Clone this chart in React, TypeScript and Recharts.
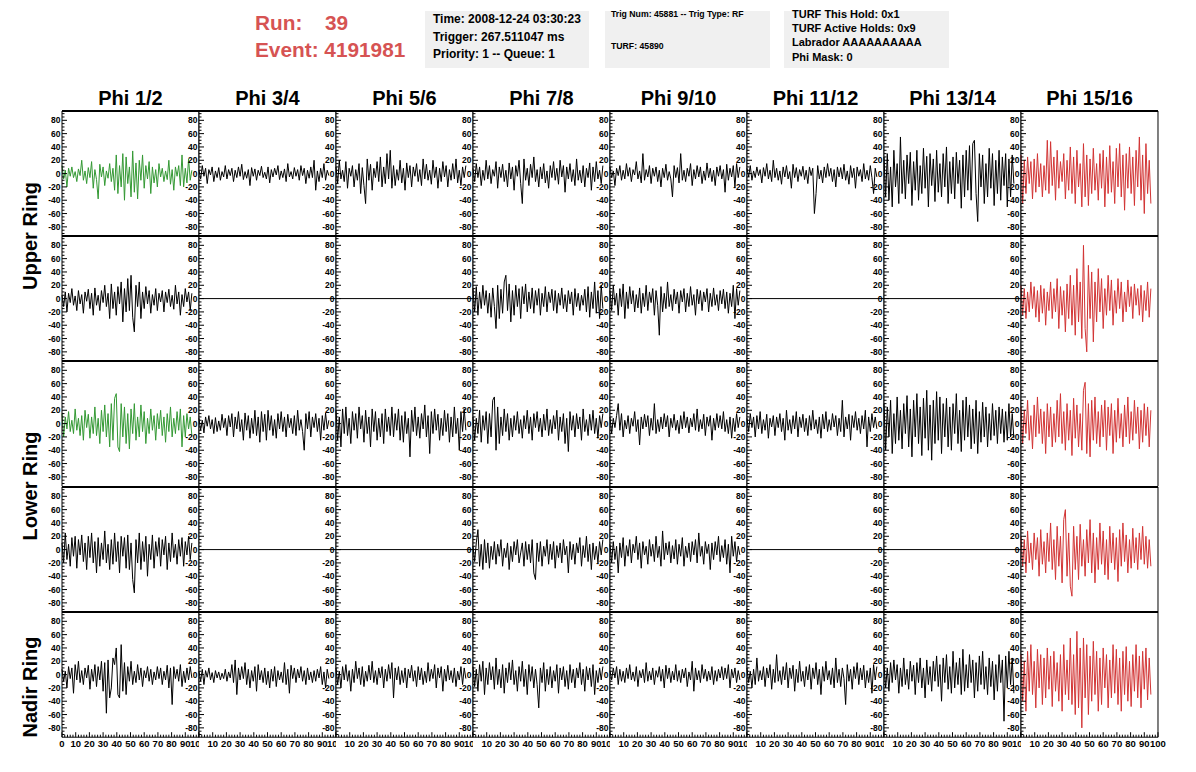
import { LineChart, Line, XAxis, YAxis, ReferenceLine } from "recharts";

const columns = ["Phi 1/2", "Phi 3/4", "Phi 5/6", "Phi 7/8", "Phi 9/10", "Phi 11/12", "Phi 13/14", "Phi 15/16"];

// sample spacing (ns) of every waveform
const DT = 1.2;

// empty channels: a flat line across the whole window
const flatTimes = [0, 100];
const flatValues = [0, 0];

const yTicks = [-90, -85, -80, -75, -70, -65, -60, -55, -50, -45, -40, -35, -30, -25, -20, -15, -10, -5, 0, 5, 10, 15, 20, 25, 30, 35, 40, 45, 50, 55, 60, 65, 70, 75, 80, 85, 90];
const xTicks = [0, 2, 4, 6, 8, 10, 12, 14, 16, 18, 20, 22, 24, 26, 28, 30, 32, 34, 36, 38, 40, 42, 44, 46, 48, 50, 52, 54, 56, 58, 60, 62, 64, 66, 68, 70, 72, 74, 76, 78, 80, 82, 84, 86, 88, 90, 92, 94, 96, 98, 100];

// ---- Upper ring, top row
const upperTop12 = [
  12, -8, 5, -20, 8, -4, 10, -6, 3, -12,
  7, -3, 20, -10, 4, -15, 9, -6, 18, -22,
  6, -9, -38, 14, -5, 10, -18, 4, -7, 15,
  -12, 8, -25, 28, -30, 12, -20, 30, -40, 25,
  -15, 10, -35, 34, -28, 16, -38, 20, -10, 28,
  -22, 12, -8, 18, -30, 10, -14, 6, -20, 15,
  -5, 8, -12, 4, -9, 20, -16, 6, -25, 10,
  -4, 12, -18, 28, -20, 8, -14, 22, -10, 5,
];
const upperTop34 = [
  5, -8, 12, -4, 8, -15, 6, -2, 10, -12,
  4, -6, 9, -10, 3, -5, 12, -8, 6, -3,
  8, -12, 5, -6, 10, -4, 14, -9, 3, -7,
  6, -18, 9, -4, 7, -10, 5, -3, 11, -6,
  2, -8, 10, -14, 6, -5, 8, -2, 12, -9,
  4, -6, 7, -12, 15, -5, 3, -8, 9, -4,
  6, -10, 12, -3, 8, -15, 5, -7, 10, -6,
  20, -25, 4, -12, 8, -6, 15, -10, 5, -3,
];
const upperTop56 = [
  10, -15, 20, -8, 5, -12, 18, -22, 8, -4,
  12, -20, 6, -10, 15, -30, 9, -18, -45, 22,
  -10, 14, -25, 8, -6, 18, -12, 25, -20, 10,
  -15, 30, -8, 35, -22, 12, -18, 6, -10, 20,
  -14, 8, -25, 16, -6, 12, -20, 10, -4, 15,
  -12, 6, -18, 22, -8, 14, -10, 5, -16, 20,
  -6, 10, -22, 8, -12, 18, -5, 12, -20, 6,
  -10, 15, -8, 22, -14, 5, -18, 10, -6, 12,
];
const upperTop78 = [
  8, -12, 15, -6, 10, -18, 5, -10, 20, -8,
  12, -15, 6, -4, 18, -22, 10, -6, 14, -12,
  5, -20, 16, -8, 10, -25, 12, -4, 20, -15,
  -45, 22, -10, 8, -18, 14, -6, 25, -12, 6,
  -20, 10, -8, 15, -14, 4, -22, 12, -6, 18,
  -10, 8, -16, 20, -5, 12, -28, 10, -8, 15,
  -12, 6, -18, 22, -10, 5, -14, 12, -20, 8,
  -6, 16, -25, 10, -12, 18, -8, 5, -15, 12,
];
const upperTop910 = [
  10, -6, 4, -18, 8, -3, 12, -10, 5, -8,
  15, -4, 9, -12, 6, -2, 18, -8, 4, -14,
  30, -10, 6, -5, 12, -15, 8, -4, 10, -12,
  5, -20, 8, -6, 14, -10, 3, -8, -35, 12,
  -6, 9, -14, 30, -10, 5, -12, 8, -4, 15,
  -18, 6, -8, 12, -5, 10, -15, 4, -10, 16,
  -6, 8, -12, 5, -18, 10, -4, 12, -8, 6,
  -28, 14, -10, 8, -5, 12, -20, 15, -6, 10,
];
const upperTop1112 = [
  8, -5, 12, -10, 4, -6, 10, -3, 6, -14,
  9, -4, 15, -8, 5, -12, 20, -6, 8, -10,
  4, -16, 10, -5, 12, -8, 3, -22, 14, -6,
  9, -12, 6, -4, 11, -9, 5, -15, 10, -3,
  8, -60, -30, 12, -8, 5, -14, 10, -6, 15,
  -4, 8, -12, 6, -20, 10, -5, 9, -8, 14,
  -10, 4, -16, 12, -6, 8, -22, 10, -4, 6,
  -12, 15, -8, 5, -10, 12, -6, -30, 8, -5,
];
const upperTop1314 = [
  25, -35, 30, -40, 10, -50, 35, -20, 15, -45,
  55, -30, 20, -38, 28, -15, 32, -48, 18, -25,
  35, -40, 12, -30, 38, -22, 26, -50, 30, -18,
  22, -42, 35, -28, 15, -35, 30, -20, 40, -45,
  18, -30, 25, -38, 32, -15, 20, -52, 28, -35,
  35, -25, 42, -40, 45, 50, -30, -72, 30, -20,
  28, -45, 15, -35, 38, -22, 30, -48, 20, -30,
  35, -40, 25, -18, 30, -50, 22, -35, 28, -15,
];
const upperTop1516 = [
  28, -45, 20, -30, 25, -15, 18, -38, 22, -28,
  30, -20, 15, -35, 12, -25, 50, -30, 48, -18,
  25, -40, 35, -22, 18, -12, 30, -38, 20, -25,
  40, -30, 25, -45, 35, -20, 15, -50, 45, -35,
  28, -48, 22, -30, 38, -25, 15, -40, 30, -22,
  35, -50, 25, -30, 42, -28, 18, -45, 38, -20,
  45, -35, 28, -55, 30, -22, 40, -30, 25, -48,
  35, -20, 55, -40, 28, -60, 45, -30, 20, -45,
];

// ---- Upper ring, bottom row
const upperBot12 = [
  5, -12, 10, -20, 8, -6, 15, -10, 4, -18,
  12, -8, 6, -22, 10, -4, 14, -15, 8, -25,
  16, -10, 5, -18, 12, -6, 20, -12, 8, -30,
  22, -15, 10, -25, 18, -8, 25, -35, 15, -20,
  30, -18, 35, -28, -50, 20, -12, 25, -30, 10,
  -15, 18, -8, 12, -22, 6, -10, 15, -18, 8,
  -5, 12, -20, 10, -6, 14, -12, 5, -16, 20,
  -8, 10, -25, 6, -12, 15, -5, 10, -18, 8,
];
const upperBot78 = [
  15, -20, 18, -25, 10, -15, 20, -10, 12, -22,
  8, -28, 16, -12, -45, 20, -30, 14, -22, 25,
  35, -18, 22, -35, 12, -25, 20, -12, 15, -30,
  18, -8, 22, -20, 10, -15, 16, -22, 12, -10,
  15, -25, 8, -12, 18, -20, 10, -6, 14, -18,
  12, -22, 8, -10, 16, -15, 6, -20, 12, -8,
  10, -25, 15, -12, 8, -18, 5, -10, 14, -20,
  18, -28, 10, -15, 25, -22, 12, -30, 20, -15,
];
const upperBot910 = [
  12, -18, 20, -10, 8, -25, 15, -12, 22, -30,
  10, -15, 18, -8, 12, -20, 6, -14, 16, -22,
  8, -12, 20, -18, 10, -6, 15, -25, 12, -10,
  -55, 18, -20, 8, -15, 25, -12, 6, -18, 14,
  -8, 10, -22, 12, -5, 15, -20, 8, -12, 18,
  -10, 6, -25, 14, -8, 12, -18, 10, -5, 15,
  -20, 8, -12, 16, -10, 6, -18, 12, -8, 14,
  -15, 10, -22, 8, -12, 20, -30, 15, -10, 12,
];
const upperBot1516 = [
  20, -25, 15, -30, 10, -20, 25, -15, 18, -28,
  12, -35, 20, -22, 15, -40, 10, -18, 25, -30,
  15, -20, 30, -45, 18, -25, 12, -50, 22, -30,
  35, -40, 20, -55, 45, -35, 25, -60, 80, -45,
  -80, 50, -30, 40, -65, 25, -35, 45, -20, 30,
  -45, 15, -25, 35, -18, 28, -40, 12, -22, 30,
  -15, 25, -35, 10, -20, 28, -12, 18, -30, 22,
  -10, 15, -25, 20, -35, 12, -18, 25, -28, 15,
];

// ---- Lower ring, top row
const lowerTop12 = [
  15, -20, 10, -8, 18, -12, 5, -15, 22, -10,
  8, -18, 12, -25, 20, -6, 14, -22, 10, -15,
  25, -18, 8, -30, 20, -12, 28, -20, 15, -35,
  30, -25, 38, 45, -35, -42, 30, -20, 25, -30,
  15, -38, 22, -15, 30, -25, 10, -20, 28, -12,
  18, -30, 8, -15, 22, -10, 12, -25, 15, -8,
  20, -18, 10, -28, 15, -12, 25, -20, 8, -15,
  18, -10, 22, -35, 12, -20, 15, -8, 10, -18,
];
const lowerTop34 = [
  8, -10, 5, -14, 10, -4, 12, -8, 6, -15,
  9, -12, 4, -10, 14, -6, 8, -18, 12, -5,
  15, -20, 10, -8, 18, -12, 6, -25, 16, -10,
  12, -22, 8, -15, 20, -18, 10, -28, 18, -12,
  14, -25, 20, -10, 12, -18, 6, -22, 15, -8,
  18, -12, 10, -20, 14, -6, 8, -15, 12, -18,
  20, -10, 6, -12, -40, 15, -8, 18, -20, 10,
  -6, 15, -12, 8, -25, 12, -10, 16, -8, 5,
];
const lowerTop56 = [
  20, -25, 10, -35, 22, -15, 25, -18, 8, -30,
  18, -10, 15, -22, 25, -8, 12, -28, 20, -15,
  10, -35, 22, -12, 18, -25, 8, -20, 15, -30,
  22, -12, 10, -18, 25, -20, 15, -10, 22, -25,
  12, -28, 18, -15, 8, -50, 20, -12, 25, -18,
  10, -22, 15, -8, 28, -20, 12, -45, 18, -15,
  22, -10, 14, -25, 8, -18, 20, -12, 15, -28,
  10, -20, 25, -15, 8, -40, 18, -12, 22, -10,
];
const lowerTop78 = [
  10, -25, 8, -15, 20, -28, 12, -10, 18, -30,
  15, -20, 35, 40, -40, 25, -30, 10, -18, 22,
  -12, 15, -25, 8, -20, 12, -10, 18, -15, 6,
  -22, 12, -8, 20, -15, 10, -25, 15, -6, 18,
  -12, 8, -20, 14, -10, 22, -18, 6, -15, 12,
  -8, 20, -25, 10, -12, 15, -30, 8, -42, 18,
  -10, 12, -20, 15, -8, 10, -25, 22, -12, 6,
  -18, 14, -10, 20, -15, 8, -22, 12, -6, 15,
];
const lowerTop910 = [
  10, -15, 8, -6, 12, 30, -10, 15, -20, 5,
  -8, 12, -15, 8, -4, 18, -12, 6, -32, 10,
  -8, 14, -5, 12, -18, 8, -10, 30, -15, 6,
  -12, 10, -8, 15, -5, 12, -20, 8, -6, 14,
  -10, 5, -15, 12, -8, 18, -6, 10, -14, 8,
  -5, 15, -10, 22, -12, 6, -8, 14, -18, 10,
  -4, 12, -25, 8, -10, 15, -6, 12, -8, 18,
  -12, 6, -15, 10, -22, 8, -12, 15, -6, 10,
];
const lowerTop1112 = [
  8, -12, 15, -6, 10, -20, 12, -8, 18, -15,
  6, -10, 14, -22, 8, -5, 12, -18, 10, -6,
  15, -12, 8, -25, 20, -10, 6, -15, 12, -8,
  18, -20, 10, -6, 14, -12, 8, -18, 12, -10,
  20, -8, 6, -15, 10, -22, 14, -8, 18, -12,
  6, -10, 15, -5, 12, -18, 8, -12, 35, -20,
  10, -8, 14, -25, 12, -6, 18, -10, 8, -15,
  12, -8, 20, -35, 10, -12, 15, -6, 10, -8,
];
const lowerTop1314 = [
  30, -40, 25, -20, 35, -45, 15, -30, 40, -25,
  20, -38, 30, -15, 42, -35, 22, -50, 35, -20,
  45, -30, 25, -48, 38, -22, 50, -40, 28, -55,
  35, -30, 48, -25, 40, -45, 30, -20, 38, -35,
  25, -40, 30, -15, 45, -30, 20, -42, 35, -25,
  40, -20, 28, -38, 22, -30, 35, -45, 18, -28,
  32, -20, 25, -35, 15, -25, 30, -18, 20, -30,
  25, -15, 22, -28, 18, -25, 30, -20, 15, -22,
];
const lowerTop1516 = [
  25, -30, 20, -15, 35, -25, 12, -38, 28, -20,
  40, -15, 22, -30, 18, -45, 30, -20, 25, -35,
  15, -28, 35, -20, 45, -30, 18, -40, 30, -25,
  20, -48, 38, -22, 28, -35, 15, -40, 50, 62,
  -45, 30, -50, 35, -25, 40, -30, 18, -35, 28,
  -20, 35, -40, 25, -18, 30, -45, 20, -28, 38,
  -22, 15, -35, 28, -20, 40, -30, 18, -25, 35,
  -15, 25, -38, 20, -28, 30, -18, 25, -35, 20,
];

// ---- Lower ring, bottom row
const lowerBot12 = [
  10, -20, 25, -15, 8, -25, 18, -10, 20, -28,
  15, -8, 22, -18, 10, -30, 20, -12, 25, -20,
  12, -35, 18, -25, 10, -15, 28, -20, 8, -30,
  15, -22, 25, -18, 12, -35, 20, -10, 18, -28,
  22, -30, 10, -45, -65, 15, -20, 25, -30, 12,
  -18, 20, -40, 8, -15, 22, -28, 12, -10, 18,
  -25, 15, -8, 20, -30, 10, -18, 25, -12, 8,
  -22, 15, -10, 18, -25, 12, -8, 20, -15, 10,
];
const lowerBot78 = [
  5, -18, 10, 30, -25, 8, -30, 15, -20, 10,
  -28, 5, -15, 12, -22, 8, -10, 15, -25, 2,
  -12, 10, -30, 5, -18, 12, -8, 15, -20, -5,
  10, -25, 12, -15, 8, -20, 15, -35, -45, 10,
  -18, 12, -25, 5, -10, 15, -22, 8, -15, 12,
  -28, 6, -12, 10, -20, 15, -8, 5, -35, 12,
  -15, 8, -22, 10, -5, 18, -25, 6, -12, 20,
  -18, 8, -30, 10, -15, 5, -20, 12, -8, 15,
];
const lowerBot910 = [
  8, -20, 12, -15, 5, -35, 10, -12, 18, -25,
  6, -10, 15, -20, 8, -5, 20, -15, 10, -28,
  12, -8, 5, -22, 15, -10, 8, -18, 20, -12,
  5, -25, 28, -15, 10, -8, 12, -20, 6, -14,
  15, -22, 8, -10, 18, -25, 5, -12, 10, -18,
  12, -8, 15, -20, 25, -10, 5, -22, 12, -6,
  8, -30, 10, -15, 12, -8, 20, -18, 6, -12,
  15, -22, 8, -35, 20, -10, 12, -18, 5, -8,
];
const lowerBot1516 = [
  20, -25, 15, -35, 28, -20, 10, -30, 25, -15,
  18, -40, 30, -22, 12, -35, 25, -18, 40, -30,
  15, -45, 35, -25, 20, -50, 45, 60, -40, 25,
  -55, -70, 35, -30, 20, -45, 38, -25, 15, -40,
  30, -20, 45, -35, 25, -50, 18, -30, 40, -22,
  28, -38, 15, -45, 35, -20, 25, -30, 18, -48,
  30, -25, 40, -18, 22, -35, 15, -28, 32, -20,
  18, -30, 25, -15, 35, -22, 20, -28, 15, -25,
];

// ---- Nadir ring
const nadir12 = [
  8, -10, 5, -20, 12, -6, 10, -28, 15, -8,
  20, -12, 6, -15, 10, -5, 14, -22, 8, -10,
  15, -18, 12, -8, 20, -25, 18, -58, 22, -35,
  -20, 25, 15, 40, -30, -35, 45, -25, 18, -30,
  12, -10, 20, -15, 5, -12, 15, -8, 10, -18,
  6, -5, 12, -10, 8, -15, 4, -8, 12, -6,
  10, -15, 5, -8, 14, -20, 10, -45, 12, -6,
  8, -10, 15, -18, 5, -12, 10, -8, 12, -5,
];
const nadir34 = [
  5, -10, 8, -15, 6, -4, 10, -8, 3, -12,
  6, -5, 4, -8, 2, -6, 8, -10, 4, -5,
  15, -12, 22, -30, 10, -8, 12, -6, 18, -15,
  8, -20, 6, -10, 12, -25, 15, -8, 6, -12,
  10, -15, 5, -20, 8, -10, 12, -18, 6, -8,
  4, -12, 18, -15, 8, -28, 14, -6, 10, -12,
  8, -5, 12, -10, 6, -15, 10, -8, 4, -12,
  6, -10, 8, -5, 12, -15, 4, -20, 8, -6,
];
const nadir56 = [
  10, -15, 5, -20, 12, -8, 15, -10, 6, -25,
  8, -12, 20, -6, 10, -15, 12, -18, 5, -10,
  14, -8, 20, -12, 6, -15, 10, -5, 12, -20,
  8, -10, 15, -6, 18, -35, 10, -8, 12, -15,
  6, -12, 10, -20, 8, -5, 14, -10, 6, -18,
  12, -8, 10, -15, 5, -12, 18, -10, 8, -6,
  15, -20, 10, -5, 12, -25, 8, -10, 14, -8,
  6, -12, 10, -18, 5, -8, 12, -15, 10, -6,
];
const nadir78 = [
  12, -18, 8, -25, 15, -10, 20, -30, 10, -15,
  18, -8, 12, -22, 25, -15, 8, -20, 15, -28,
  10, -12, 18, -8, 22, -15, 6, -25, 12, -10,
  20, -18, 8, -30, 15, -10, 12, -20, 8, -15,
  -50, 10, -12, 18, -25, 8, -15, 12, -20, 6,
  -10, 15, -28, 10, -8, 12, -18, 6, -22, 15,
  -12, 8, -20, 10, -5, 18, -15, 8, -25, 12,
  -8, 10, -18, 15, -30, 6, -12, 10, -8, 12,
];
const nadir910 = [
  6, -8, 10, -5, 12, -15, 8, -10, 5, -12,
  10, -6, 15, -8, 4, -10, 12, -18, 6, -5,
  8, -12, 18, -10, 5, -8, 10, -15, 6, -4,
  12, -10, 8, -20, 14, -6, 10, -12, 5, -8,
  15, -10, 6, -12, 8, -5, 10, -18, 4, -8,
  20, -25, 10, -8, 6, -12, 15, -6, 8, -10,
  5, -8, 12, -15, 6, -10, 8, -5, 12, -8,
  10, -6, 15, -20, 8, -5, 10, -12, 6, -8,
];
const nadir1112 = [
  10, -12, 5, -20, 8, -15, 25, -10, 6, -8,
  12, -18, 10, -5, 15, -22, 8, -12, 30, -10,
  6, -15, 12, -8, 18, -20, 10, -6, 14, -25,
  8, -12, 20, -10, 5, -18, 12, -8, 15, -22,
  10, -6, 18, -15, 8, -30, 12, -10, 20, -8,
  6, -15, 10, -20, 25, -12, 8, -18, 10, -6,
  -45, 15, -10, 8, -22, 12, -6, 18, -15, 10,
  -8, 14, -20, 6, -12, 10, -28, 15, -8, 12,
];
const nadir1314 = [
  15, -20, 10, -25, 18, -12, 22, -8, 15, -28,
  10, -18, 25, -15, 8, -22, 20, -10, 14, -30,
  18, -12, 25, -20, 10, -35, 22, -15, 12, -25,
  20, -10, 28, -18, 15, -40, 25, -12, 30, -22,
  12, -28, 35, -20, 18, -15, 25, -30, 38, -25,
  15, -20, 30, -12, 22, -35, 18, -25, 28, -15,
  35, -22, 12, -30, 25, -18, 20, -38, 15, -25,
  30, -12, 22, -70, 28, -20, 35, -15, 25, -28,
];
const nadir1516 = [
  30, -40, 20, -55, 35, -25, 45, -30, 20, -50,
  38, -20, 30, -45, 25, -35, 40, -22, 28, -48,
  35, -25, 18, -40, 30, -55, 45, -30, 22, -38,
  55, -45, 30, -60, 65, -50, 40, -80, 55, -35,
  45, -60, 28, -40, 50, -30, 35, -55, 25, -45,
  40, -20, 30, -50, 22, -35, 45, -28, 38, -45,
  25, -55, 35, -30, 42, -40, 20, -48, 30, -25,
  45, -35, 28, -50, 35, -22, 40, -38, 25, -30,
];

const grid: (number[] | null)[][] = [
  [upperTop12, upperTop34, upperTop56, upperTop78, upperTop910, upperTop1112, upperTop1314, upperTop1516],
  [upperBot12, null, null, upperBot78, upperBot910, null, null, upperBot1516],
  [lowerTop12, lowerTop34, lowerTop56, lowerTop78, lowerTop910, lowerTop1112, lowerTop1314, lowerTop1516],
  [lowerBot12, null, null, lowerBot78, lowerBot910, null, null, lowerBot1516],
  [nadir12, nadir34, nadir56, nadir78, nadir910, nadir1112, nadir1314, nadir1516],
];

const FONT = "'Liberation Sans', Arial, Helvetica, sans-serif";
const PLOT_LEFT = 62;
const PLOT_TOP = 111;
const COL_W = 137;
const ROW_H = 125.2;
const LABEL_W = 26;
const TOP_PAD = 2;
const GREEN = "#339933";
const RED = "#d23434";

const lineColor = (row: number, col: number) => {
  if (col === 7) return RED;
  if (col === 0 && (row === 0 || row === 2)) return GREEN;
  return "#000";
};

const YTick = (props: any) => {
  const { x, y, payload } = props;
  const v = payload.value;
  const major = v % 20 === 0 && Math.abs(v) <= 80;
  return (
    <g>
      <line x1={x} x2={x + (major ? 5 : 2.5)} y1={y} y2={y} stroke="#000" />
      {major && (
        <text x={x - 1.5} y={y} dy="0.35em" textAnchor="end" fontSize={8.5} fontWeight="bold" fontFamily={FONT} fill="#000">
          {v}
        </text>
      )}
    </g>
  );
};

const XTick = (props: any) => {
  const { x, y, payload, col, bottom } = props;
  const v = payload.value;
  const major = v % 10 === 0;
  let label: string | null = null;
  let anchor = "middle";
  if (bottom && major) {
    if (v === 0) label = col === 0 ? "0" : null;
    else if (v === 100 && col !== 7) {
      // the "100" of inner panels is cut by the next panel
      label = "10";
      anchor = "end";
    } else label = String(v);
  }
  return (
    <g>
      <line x1={x} x2={x} y1={y} y2={y - (major ? 5 : 2.5)} stroke="#000" />
      {label && (
        <text x={anchor === "end" ? x + 1.5 : x} y={y} dy={10} textAnchor={anchor} fontSize={9.5} fontWeight="bold" fontFamily={FONT} fill="#000">
          {label}
        </text>
      )}
    </g>
  );
};

const Panel = ({ values, row, col }: { values: number[] | null; row: number; col: number }) => {
  const bottom = row === 4;
  const rightPad = col === 7 ? 14 : 0;
  const data = values
    ? values.map((v, i) => ({ t: i * DT, v }))
    : flatTimes.map((t, i) => ({ t, v: flatValues[i] }));
  return (
    <div
      style={{
        position: "absolute",
        left: PLOT_LEFT + col * COL_W - LABEL_W,
        top: PLOT_TOP + row * ROW_H - TOP_PAD,
      }}
    >
      <LineChart
        width={LABEL_W + COL_W + rightPad}
        height={ROW_H + TOP_PAD + (bottom ? 16 : 0)}
        data={data}
        margin={{ top: TOP_PAD, right: rightPad, bottom: 0, left: 0 }}
      >
        <XAxis
          dataKey="t"
          type="number"
          domain={[0, 100]}
          ticks={xTicks}
          interval={0}
          tickSize={0}
          tickMargin={0}
          tickLine={false}
          axisLine={{ stroke: "#000" }}
          height={bottom ? 16 : 0}
          tick={(p: any) => <XTick {...p} col={col} bottom={bottom} />}
        />
        <YAxis
          type="number"
          domain={[-94, 94]}
          ticks={yTicks}
          interval={0}
          width={LABEL_W}
          tickSize={0}
          tickMargin={0}
          tickLine={false}
          axisLine={{ stroke: "#000" }}
          tick={(p: any) => <YTick {...p} />}
        />
        <ReferenceLine y={94} stroke="#000" strokeWidth={2} />
        <ReferenceLine x={100} stroke="#000" />
        <Line
          type="linear"
          dataKey="v"
          stroke={lineColor(row, col)}
          strokeWidth={1}
          dot={false}
          isAnimationActive={false}
        />
      </LineChart>
    </div>
  );
};

const boxStyle = (left: number, width: number): React.CSSProperties => ({
  position: "absolute",
  left,
  top: 11,
  width,
  height: 57,
  background: "#f0f0f0",
});

const txt = (left: number, top: number, size: number, text: string, color = "#000") => (
  <div
    style={{
      position: "absolute",
      left,
      top,
      fontSize: size,
      fontWeight: "bold",
      fontFamily: FONT,
      color,
      whiteSpace: "pre",
      lineHeight: 1,
    }}
  >
    {text}
  </div>
);

export default function App() {
  return (
    <div style={{ position: "absolute", left: 0, top: 0, width: 1196, height: 772, background: "#fff", overflow: "hidden" }}>
      {txt(255, 13, 20.8, "Run:", "#d65353")}
      {txt(325, 13, 20.8, "39", "#d65353")}
      {txt(255, 40, 20.8, "Event: 4191981", "#d65353")}

      <div style={boxStyle(425, 164)} />
      {txt(433, 13, 12, "Time: 2008-12-24 03:30:23")}
      {txt(433, 31, 12, "Trigger: 267.511047 ms")}
      {txt(433, 48, 12, "Priority: 1 -- Queue: 1")}

      <div style={boxStyle(605, 165)} />
      {txt(611, 10, 8.7, "Trig Num: 45881 -- Trig Type: RF")}
      {txt(611, 42, 8.7, "TURF: 45890")}

      <div style={boxStyle(784, 165)} />
      {txt(792, 9, 11, "TURF This Hold: 0x1")}
      {txt(792, 23, 11, "TURF Active Holds: 0x9")}
      {txt(792, 37, 11, "Labrador AAAAAAAAAA")}
      {txt(792, 52, 11, "Phi Mask: 0")}

      {columns.map((c, i) => (
        <div
          key={c}
          style={{
            position: "absolute",
            left: PLOT_LEFT + i * COL_W,
            width: COL_W,
            top: 88,
            textAlign: "center",
            fontSize: 20,
            fontWeight: "bold",
            fontFamily: FONT,
            lineHeight: 1,
          }}
        >
          {c}
        </div>
      ))}

      {[
        { name: "Upper Ring", cy: 236 },
        { name: "Lower Ring", cy: 486 },
        { name: "Nadir Ring", cy: 687 },
      ].map((r) => (
        <div
          key={r.name}
          style={{
            position: "absolute",
            left: 30,
            top: r.cy,
            transform: "translate(-50%, -50%) rotate(-90deg)",
            fontSize: 20,
            fontWeight: "bold",
            fontFamily: FONT,
            whiteSpace: "nowrap",
            lineHeight: 1,
          }}
        >
          {r.name}
        </div>
      ))}

      {grid.map((rowVals, r) =>
        rowVals.map((vals, c) => <Panel key={`${r}-${c}`} values={vals} row={r} col={c} />)
      )}
    </div>
  );
}
